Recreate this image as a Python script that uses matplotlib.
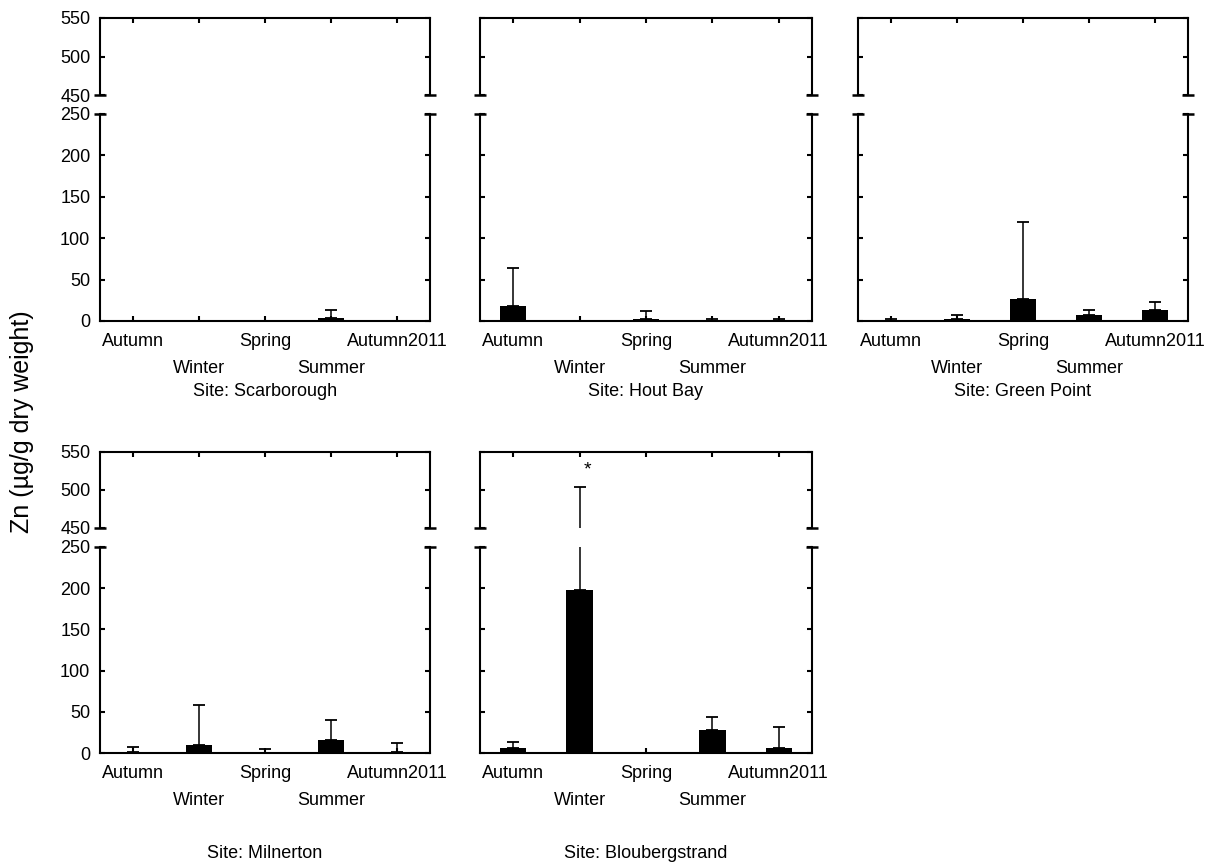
import numpy as np
import matplotlib
matplotlib.use("Agg")
import matplotlib.pyplot as plt

plt.rcParams['font.family'] = ['Liberation Sans', 'DejaVu Sans']

seasons = ['Autumn', 'Winter', 'Spring', 'Summer', 'Autumn2011']
sites = ['Scarborough', 'Hout Bay', 'Green Point', 'Milnerton', 'Bloubergstrand']

# mean Zn concentration per season, and the upper error (SD)
zn_scarborough = [0.3, 0.3, 0.3, 3.5, 0.3]
sd_scarborough = [0, 0, 0, 9.5, 0]
zn_houtbay = [18, 0, 2, 0.5, 0.5]
sd_houtbay = [46, 0, 10.5, 1.5, 1.5]
zn_greenpoint = [0.5, 2.5, 26.5, 7, 13]
sd_greenpoint = [1.5, 4.5, 93, 6, 10]
zn_milnerton = [1.6, 10, 0.5, 16, 1.6]
sd_milnerton = [5.3, 48.7, 4, 24.5, 10.4]
zn_blouberg = [6, 198, 0.5, 28, 6]
sd_blouberg = [7, 306, 0, 16, 25]

means = [zn_scarborough, zn_houtbay, zn_greenpoint, zn_milnerton, zn_blouberg]
sds = [sd_scarborough, sd_houtbay, sd_greenpoint, sd_milnerton, sd_blouberg]

# significance star: site index, season index, height
star_site, star_season, star_y = 4, 1, 527

W, H = 1228, 868
fig = plt.figure(figsize=(W / 100, H / 100), dpi=100)

cols = [(100, 430), (480, 812), (858, 1188)]
# top, break bottom, break top, bottom (pixels) and gap to the site title
rows = [(18, 95, 114, 321, 70), (452, 528, 547, 753, 100)]


def rect(x0, x1, y0, y1):
    return [x0 / W, 1 - y1 / H, (x1 - x0) / W, (y1 - y0) / H]


def style(ax, lw=1.5):
    for s in ax.spines.values():
        s.set_linewidth(lw)
    ax.tick_params(direction='in', length=3.5, width=lw, labelsize=13,
                   left=True, right=True, pad=7)


x = np.arange(len(seasons))

for k, site in enumerate(sites):
    r, c = divmod(k, 3)
    x0, x1 = cols[c]
    yt, yb_up, yt_lo, yb, gap = rows[r]
    ax_up = fig.add_axes(rect(x0, x1, yt, yb_up))
    ax_lo = fig.add_axes(rect(x0, x1, yt_lo, yb))

    yerr = [np.zeros(len(seasons)), sds[k]]
    for ax in (ax_up, ax_lo):
        ax.bar(x, means[k], width=0.4, color='black')
        ax.errorbar(x, means[k], yerr=yerr, fmt='none', ecolor='black',
                    elinewidth=1.1, capsize=4.5, capthick=1.3)
        ax.set_xlim(-0.5, len(seasons) - 0.5)
        ax.set_xticks(x)
        style(ax)

    ax_up.set_ylim(450, 550)
    ax_up.set_yticks([450, 500, 550])
    ax_up.spines['bottom'].set_visible(False)
    ax_up.tick_params(axis='x', top=True, bottom=False, labelbottom=False)

    ax_lo.set_ylim(0, 250)
    ax_lo.set_yticks(np.arange(0, 251, 50))
    ax_lo.spines['top'].set_visible(False)
    ax_lo.tick_params(axis='x', top=False, bottom=True, pad=9)
    ax_lo.set_xticklabels(seasons)
    # stagger the season names on two rows
    for i, tick in enumerate(ax_lo.xaxis.get_major_ticks()):
        tick.set_pad(9 if i % 2 == 0 else 28)

    # caps at the break on both side spines
    ax_up.plot([0, 1], [0, 0], ls='none', marker='_', ms=9, mew=1.8,
               color='black', transform=ax_up.transAxes, clip_on=False)
    ax_lo.plot([0, 1], [1, 1], ls='none', marker='_', ms=9, mew=1.8,
               color='black', transform=ax_lo.transAxes, clip_on=False)

    if c != 0:
        ax_up.tick_params(labelleft=False)
        ax_lo.tick_params(labelleft=False)

    if k == star_site:
        ax_up.text(star_season + 0.12, star_y, '*', ha='center', va='center',
                   fontsize=14)

    fig.text((x0 + x1) / 2 / W, 1 - (yb + gap) / H, 'Site: ' + site,
             ha='center', va='center', fontsize=13)

fig.text(22 / W, 1 - 422 / H, 'Zn (µg/g dry weight)', rotation=90,
         ha='center', va='center', fontsize=18)

fig.savefig('out.png', dpi=100)
